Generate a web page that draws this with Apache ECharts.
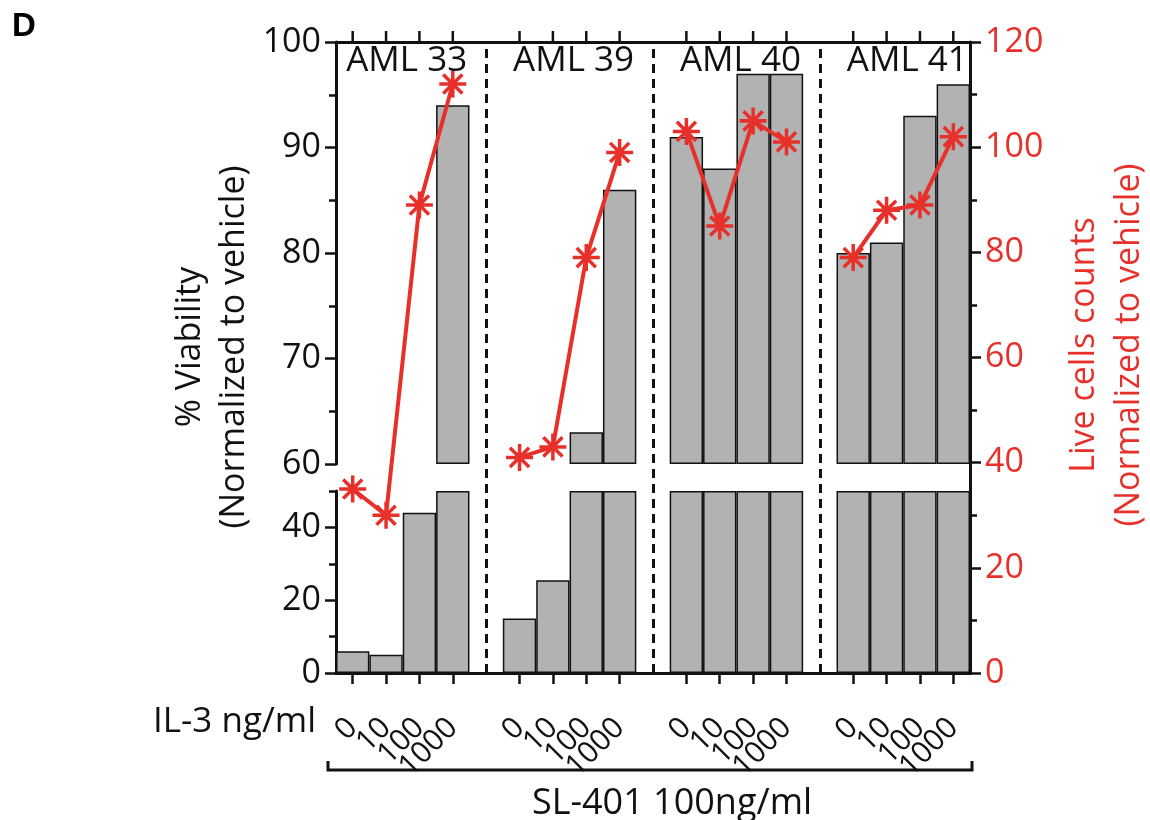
<!DOCTYPE html>
<html>
<head>
<meta charset="utf-8">
<script src="https://cdn.jsdelivr.net/npm/echarts@6/dist/echarts.min.js"></script>
<style>
    html, body { margin: 0; padding: 0; background: #fff; }
    #chart { width: 1150px; height: 820px; }
</style>
</head>
<body>
<div id="chart"></div>
<script>
const doses = ['0', '10', '100', '1000'];
const groupNames = ['AML 33', 'AML 39', 'AML 40', 'AML 41'];

// % viability, normalized to vehicle (left axis, bars)
const viabilityAml33 = [6, 5, 44, 94];
const viabilityAml39 = [15, 25.5, 63, 86];
const viabilityAml40 = [91, 88, 97, 97];
const viabilityAml41 = [80, 81, 93, 96];

// live cell counts, normalized to vehicle (right axis, line)
const countsAml33 = [35, 30, 89, 112];
const countsAml39 = [41, 43, 79, 99];
const countsAml40 = [103, 85, 105, 101];
const countsAml41 = [79, 88, 89, 102];

const BREAK_LOW = 50;
const BREAK_HIGH = 60;
const RIGHT_MAX = 120;

const FONT = '"Open Sans", "Noto Sans", sans-serif';
const INK = '#111111';
const RED = '#e8302a';
const BAR_GRAY = '#b2b2b2';

// lay the four groups on one category axis, with an empty slot between groups
const viability = [viabilityAml33, viabilityAml39, viabilityAml40, viabilityAml41];
const counts = [countsAml33, countsAml39, countsAml40, countsAml41];
const categories = [];
const barValues = [];
const lineValues = [];
const groupStarts = [];
viability.forEach((vals, g) => {
    groupStarts.push(categories.length);
    doses.forEach((d, i) => {
        categories.push(d);
        barValues.push(vals[i]);
        lineValues.push(counts[g][i]);
    });
    if (g < viability.length - 1) {
        categories.push('gap' + g);
        barValues.push('-');
        lineValues.push('-');
    }
});
const gapIndexes = categories
    .map((c, i) => (c.startsWith('gap') ? i : -1))
    .filter((i) => i >= 0);
const doseIndexes = categories
    .map((c, i) => (c.startsWith('gap') ? -1 : i))
    .filter((i) => i >= 0);

// broken axis: upper panel 60-100, lower panel 0-50
const topBars = barValues.map((v) => (v !== '-' && v > BREAK_HIGH ? v : '-'));
const bottomBars = barValues.map((v) => (v === '-' ? '-' : Math.min(v, BREAK_LOW)));

function asteriskPath() {
    const w = 0.13;
    let d = '';
    [0, 45, 90, 135].forEach((deg) => {
        const a = (deg * Math.PI) / 180;
        const dx = Math.cos(a) * 0.5, dy = Math.sin(a) * 0.5;
        const px = -Math.sin(a) * w / 2, py = Math.cos(a) * w / 2;
        const pts = [
            [dx + px, dy + py],
            [dx - px, dy - py],
            [-dx - px, -dy - py],
            [-dx + px, -dy + py],
        ].map((p) => [(p[0] + 0.5) * 100, (p[1] + 0.5) * 100]);
        d += 'M' + pts.map((p) => p[0].toFixed(2) + ' ' + p[1].toFixed(2)).join(' L') + ' Z ';
    });
    return 'path://' + d;
}

const isDose = (index, value) => !String(value).startsWith('gap');
const doseLabel = (v) => (v.startsWith('gap') ? '' : v);
const axisLineStyle = { color: INK, width: 3 };
const tickLineStyle = { color: INK, width: 2.5 };

let chart = echarts.init(document.getElementById('chart'));
let option = {
    animation: false,
    backgroundColor: '#fff',
    grid: [
        { left: 336, right: 180, top: 42, height: 422 },
        { left: 336, right: 180, top: 491, height: 182 },
        { left: 336, right: 180, top: 42, height: 631 },
    ],
    xAxis: [
        {
            gridIndex: 0,
            type: 'category',
            data: categories,
            position: 'top',
            axisLine: { show: true, lineStyle: axisLineStyle },
            axisTick: { show: false },
            axisLabel: { show: false },
            splitLine: { show: false },
        },
        {
            gridIndex: 1,
            type: 'category',
            data: categories,
            position: 'bottom',
            axisLine: { show: true, lineStyle: axisLineStyle },
            axisTick: { show: true, interval: isDose, alignWithLabel: true, length: 11, lineStyle: tickLineStyle },
            axisLabel: {
                interval: 0,
                rotate: 45,
                margin: 50,
                fontSize: 30,
                fontFamily: FONT,
                color: INK,
                formatter: doseLabel,
            },
            splitLine: { show: false },
        },
        { gridIndex: 2, type: 'category', data: categories, show: false },
    ],
    yAxis: [
        {
            gridIndex: 0,
            type: 'value',
            position: 'left',
            min: BREAK_HIGH,
            max: 100,
            interval: 10,
            startValue: BREAK_HIGH,
            axisLine: { show: true, lineStyle: axisLineStyle },
            axisTick: { show: true, length: 11, lineStyle: tickLineStyle },
            minorTick: { show: true, splitNumber: 2, length: 7, lineStyle: tickLineStyle },
            axisLabel: { fontSize: 34, margin: 15, fontFamily: FONT, color: INK },
            splitLine: { show: false },
        },
        {
            gridIndex: 1,
            type: 'value',
            position: 'left',
            min: 0,
            max: BREAK_LOW,
            interval: 20,
            axisLine: { show: true, lineStyle: axisLineStyle },
            axisTick: { show: true, length: 11, lineStyle: tickLineStyle },
            axisLabel: { fontSize: 34, margin: 15, fontFamily: FONT, color: INK, showMaxLabel: false },
            splitLine: { show: false },
        },
        {
            // minor ticks for the lower panel
            gridIndex: 1,
            type: 'value',
            position: 'left',
            min: 0,
            max: BREAK_LOW,
            interval: 10,
            axisLine: { show: false },
            axisTick: { show: true, length: 7, lineStyle: tickLineStyle },
            axisLabel: { show: false },
            splitLine: { show: false },
        },
        {
            gridIndex: 2,
            type: 'value',
            position: 'right',
            min: 0,
            max: RIGHT_MAX,
            interval: 20,
            axisLine: { show: true, lineStyle: axisLineStyle },
            axisTick: { show: true, length: 11, lineStyle: tickLineStyle },
            minorTick: { show: true, splitNumber: 2, length: 7, lineStyle: tickLineStyle },
            axisLabel: { fontSize: 34, margin: 15, fontFamily: FONT, color: RED },
            splitLine: { show: false },
        },
    ],
    series: [
        {
            type: 'bar',
            xAxisIndex: 0,
            yAxisIndex: 0,
            data: topBars,
            barCategoryGap: '0%',
            itemStyle: { color: BAR_GRAY, borderColor: INK, borderWidth: 1.5 },
        },
        {
            type: 'bar',
            xAxisIndex: 1,
            yAxisIndex: 1,
            data: bottomBars,
            barCategoryGap: '0%',
            itemStyle: { color: BAR_GRAY, borderColor: INK, borderWidth: 1.5 },
        },
        {
            type: 'line',
            xAxisIndex: 2,
            yAxisIndex: 3,
            data: lineValues,
            connectNulls: false,
            showSymbol: true,
            showAllSymbol: true,
            z: 5,
            color: RED,
            lineStyle: { color: RED, width: 4 },
            symbol: asteriskPath(),
            symbolSize: 27,
            itemStyle: { color: RED },
            markLine: {
                silent: true,
                symbol: 'none',
                label: { show: false },
                lineStyle: { color: INK, width: 3, type: [9, 6] },
                data: gapIndexes.map((i) => ({ xAxis: i })),
            },
        },
    ],
    graphic: [
        {
            id: 'panel-letter',
            type: 'text',
            left: 12,
            top: 10,
            style: {
                text: 'D',
                fontSize: 33,
                fontWeight: 'bold',
                fontFamily: '"Liberation Sans", Arial, sans-serif',
                fill: '#000',
            },
        },
        {
            id: 'left-title-1',
            type: 'text',
            x: 190,
            y: 347,
            rotation: Math.PI / 2,
            style: { text: '% Viability', font: '34px ' + FONT, fill: INK, align: 'center', verticalAlign: 'middle' },
        },
        {
            id: 'left-title-2',
            type: 'text',
            x: 234,
            y: 347,
            rotation: Math.PI / 2,
            style: { text: '(Normalized to vehicle)', font: '34px ' + FONT, fill: INK, align: 'center', verticalAlign: 'middle' },
        },
        {
            id: 'right-title-1',
            type: 'text',
            x: 1084,
            y: 345,
            rotation: Math.PI / 2,
            style: { text: 'Live cells counts', font: '34px ' + FONT, fill: RED, align: 'center', verticalAlign: 'middle' },
        },
        {
            id: 'right-title-2',
            type: 'text',
            x: 1129,
            y: 345,
            rotation: Math.PI / 2,
            style: { text: '(Normalized to vehicle)', font: '34px ' + FONT, fill: RED, align: 'center', verticalAlign: 'middle' },
        },
        {
            id: 'il3-label',
            type: 'text',
            x: 316,
            y: 722,
            style: { text: 'IL-3 ng/ml', font: '35px ' + FONT, fill: INK, align: 'right', verticalAlign: 'middle' },
        },
        {
            id: 'bracket',
            type: 'polyline',
            shape: { points: [[328, 761], [328, 770], [972, 770], [972, 761]] },
            style: { stroke: INK, lineWidth: 3, fill: null },
        },
        {
            id: 'sl401-label',
            type: 'text',
            x: 672,
            y: 804,
            style: { text: 'SL-401 100ng/ml', font: '36px ' + FONT, fill: INK, align: 'center', verticalAlign: 'middle' },
        },
    ],
};
chart.setOption(option);

// group names centred over each group of four bars
const groupLabels = groupStarts.map((start, g) => {
    const x0 = chart.convertToPixel({ xAxisIndex: 2 }, start);
    const x1 = chart.convertToPixel({ xAxisIndex: 2 }, start + doses.length - 1);
    return {
        id: 'group-' + g,
        type: 'text',
        x: (x0 + x1) / 2 + 4,
        y: 61,
        z: 10,
        style: { text: groupNames[g], font: '35px ' + FONT, fill: INK, align: 'center', verticalAlign: 'middle' },
    };
});

// tick marks on the top frame edge, one per dose, placed through the axis scale
const topY = chart.convertToPixel({ yAxisIndex: 3 }, RIGHT_MAX);
const topTicks = doseIndexes.map((i) => {
    const x = chart.convertToPixel({ xAxisIndex: 2 }, i);
    return {
        id: 'top-tick-' + i,
        type: 'line',
        z: 10,
        shape: { x1: x, y1: topY - 11, x2: x, y2: topY },
        style: { stroke: INK, lineWidth: 2.5 },
    };
});
chart.setOption({ graphic: groupLabels.concat(topTicks) });
</script>
</body>
</html>
